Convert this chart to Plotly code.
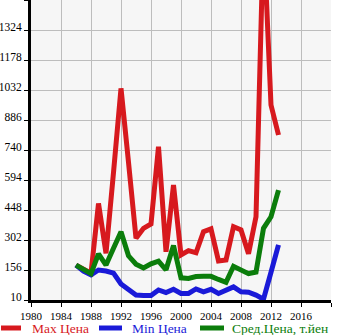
import plotly.graph_objects as go

# Yearly price series (thousand yen)
years = list(range(1986, 2014))
max_price = [180, 160, 140, 480, 237, 630, 1040, 680, 310, 359, 380, 756, 245, 570,
             229, 250, 240, 342, 356, 200, 205, 367, 351, 235, 415, 1800, 959, 813]
min_price = [180, 150, 132, 156, 151, 141, 88, 60, 34, 32, 32, 59, 46, 62,
             42, 42, 64, 50, 62, 42, 59, 74, 50, 48, 34, 14, 145, 278]
avg_price = [180, 158, 138, 235, 180, 262, 342, 225, 184, 166, 186, 199, 157, 275,
             118, 115, 124, 125, 125, 110, 96, 174, 156, 138, 146, 359, 415, 545]

series_names = ["Max Цена", "Min Цена", "Сред.Цена, т.йен"]
series_colors = ["#d7191e", "#1a1ad8", "#0b7d0b"]

y_ticks = [10, 156, 302, 448, 594, 740, 886, 1032, 1178, 1324, 1470]
y_ticktext = [str(v) for v in y_ticks[:-1]] + [""]
x_ticks = list(range(1980, 2021, 4))
x_ticktext = [str(v) for v in x_ticks[:-1]] + [""]

FONT = "Liberation Serif"

fig = go.Figure()
for name, vals, col in zip(series_names, [max_price, min_price, avg_price], series_colors):
    fig.add_trace(go.Scatter(
        x=years, y=vals, mode="lines", name=name,
        line=dict(color=col, width=5),
        hoverinfo="skip",
    ))

# Legend row drawn below the plot area
PLOT_W, PLOT_H, LEFT = 300, 300, 31
def px_x(px):
    return (px - LEFT) / PLOT_W

legend_y = -(328 - PLOT_H) / PLOT_H
swatches = [(1, 21, 30), (99, 122, 130), (200, 224, 230)]
shapes, annotations = [], []
for (x0, x1, tx), name, col in zip(swatches, series_names, series_colors):
    shapes.append(dict(type="line", xref="paper", yref="paper",
                       x0=px_x(x0), x1=px_x(x1), y0=legend_y, y1=legend_y,
                       line=dict(color=col, width=5)))
    annotations.append(dict(xref="paper", yref="paper", x=px_x(tx), y=legend_y,
                            text=name, showarrow=False, xanchor="left", yanchor="middle",
                            font=dict(family=FONT, size=13.5, color=col)))

fig.update_layout(
    width=345, height=335,
    margin=dict(l=31, r=14, t=0, b=35),
    paper_bgcolor="white",
    plot_bgcolor="#f6f6f6",
    showlegend=False,
    shapes=shapes,
    annotations=annotations,
    font=dict(family=FONT, size=11.5, color="black"),
    xaxis=dict(
        range=[1980, 2020], tickvals=x_ticks, ticktext=x_ticktext,
        tickfont=dict(size=11),
        showgrid=True, gridcolor="#bdbdbd", gridwidth=1,
        showline=True, linecolor="black", linewidth=3,
        ticks="outside", ticklen=4, tickcolor="black", tickwidth=1,
        zeroline=False, fixedrange=True,
    ),
    yaxis=dict(
        range=[10, 1470], tickvals=y_ticks, ticktext=y_ticktext,
        showgrid=True, gridcolor="#bdbdbd", gridwidth=1,
        showline=True, linecolor="black", linewidth=3,
        ticks="outside", ticklen=4, tickcolor="black", tickwidth=1,
        ticklabelshift=-3,
        zeroline=False, fixedrange=True,
    ),
)

fig.write_html("out.html", config={"displayModeBar": False})
